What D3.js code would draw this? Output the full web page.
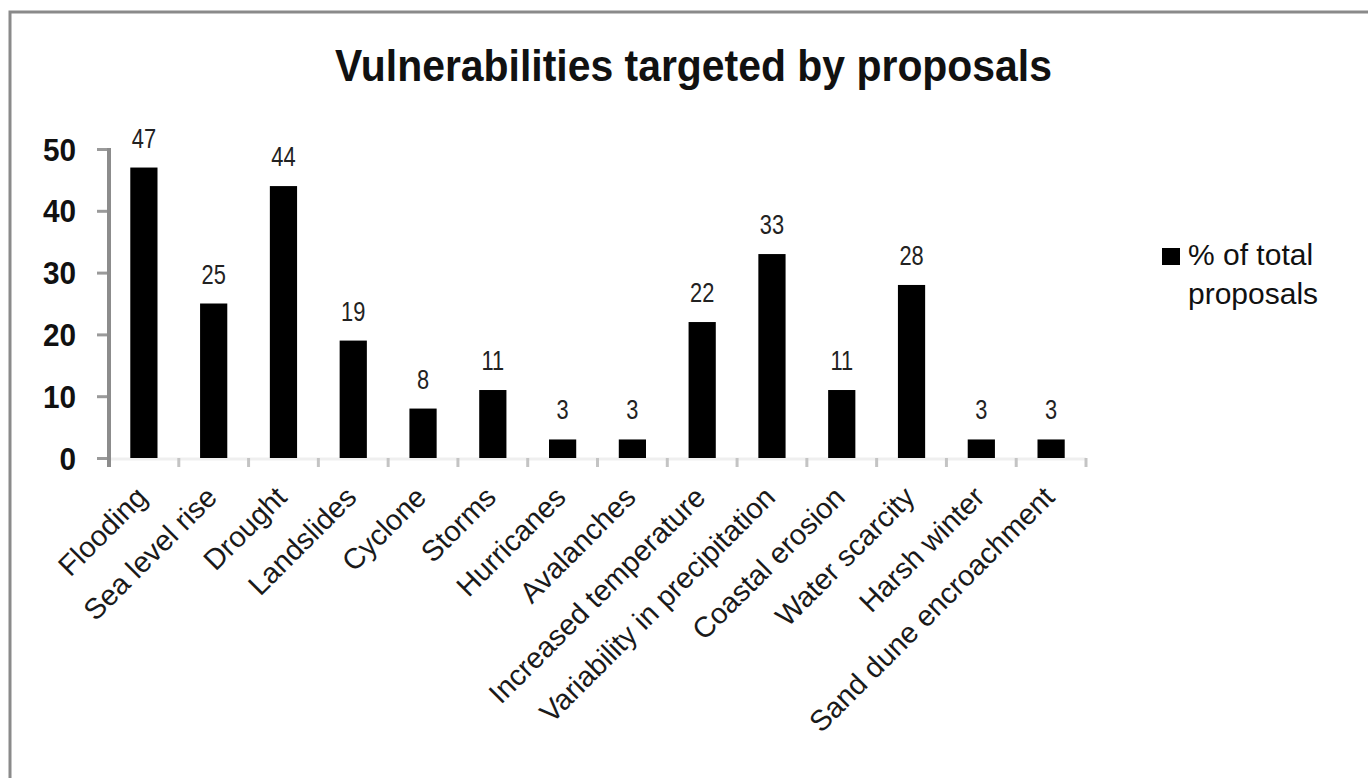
<!DOCTYPE html>
<html>
<head>
<meta charset="utf-8">
<script src="https://cdn.jsdelivr.net/npm/d3@7"></script>
<style>
  html, body { margin: 0; padding: 0; background: #fff; }
  svg { display: block; }
  text { font-family: "Liberation Sans", Arial, sans-serif; }
</style>
</head>
<body>
<svg id="chart" width="1368" height="778"></svg>
<script>
// Share of proposals addressing each vulnerability (%)
const categories = [
  "Flooding", "Sea level rise", "Drought", "Landslides", "Cyclone", "Storms",
  "Hurricanes", "Avalanches", "Increased temperature", "Variability in precipitation",
  "Coastal erosion", "Water scarcity", "Harsh winter", "Sand dune encroachment"
];
const values = [47, 25, 44, 19, 8, 11, 3, 3, 22, 33, 11, 28, 3, 3];
const yTicks = [0, 10, 20, 30, 40, 50];
const titleText = "Vulnerabilities targeted by proposals";
const legendLines = ["% of total", "proposals"];

const svg = d3.select("#chart");

// frame around the chart area
svg.append("path")
  .attr("d", "M10,778 L10,12 L1368,12")
  .attr("fill", "none")
  .attr("stroke", "#8a8a8a")
  .attr("stroke-width", 3);

const x = d3.scaleBand()
  .domain(categories)
  .range([109, 1086])
  .paddingInner(0.61)
  .paddingOuter(0.305);

const y = d3.scaleLinear()
  .domain([0, 50])
  .range([458, 149]);

// title
svg.append("text")
  .attr("x", 335)
  .attr("y", 81)
  .attr("font-size", 44)
  .attr("font-weight", "bold")
  .attr("fill", "#111")
  .attr("textLength", 717)
  .attr("lengthAdjust", "spacingAndGlyphs")
  .text(titleText);

// category axis: faint baseline with separators between categories
const step = x.step();
const x0 = x.range()[0];
svg.append("line")
  .attr("x1", x0).attr("x2", x.range()[1])
  .attr("y1", y(0) + 1).attr("y2", y(0) + 1)
  .attr("stroke", "#efefef").attr("stroke-width", 3);

svg.append("g")
  .selectAll("line")
  .data(d3.range(1, categories.length + 1))
  .join("line")
  .attr("x1", i => x0 + i * step)
  .attr("x2", i => x0 + i * step)
  .attr("y1", y(0))
  .attr("y2", y(0) + 9)
  .attr("stroke", "#c4c4c4")
  .attr("stroke-width", 3);

// value axis
const yAxis = svg.append("g")
  .attr("transform", `translate(${x0},0)`)
  .call(d3.axisLeft(y).tickValues(yTicks).tickSize(12).tickPadding(0).tickFormat(""));
yAxis.select(".domain").remove();
yAxis.selectAll(".tick line")
  .attr("stroke", "#9a9a9a")
  .attr("stroke-width", 3);
yAxis.append("line")
  .attr("x1", 0).attr("x2", 0)
  .attr("y1", y(50) - 1).attr("y2", y(0) + 9)
  .attr("stroke", "#8c8c8c").attr("stroke-width", 4);

svg.append("g")
  .selectAll("text")
  .data(yTicks)
  .join("text")
  .attr("transform", d => `translate(76,${y(d)}) scale(0.93,1)`)
  .attr("dy", "0.36em")
  .attr("text-anchor", "end")
  .attr("font-size", 32)
  .attr("font-weight", "bold")
  .attr("fill", "#111")
  .text(d => d);

// bars
svg.append("g")
  .selectAll("rect")
  .data(values)
  .join("rect")
  .attr("x", (d, i) => x(categories[i]))
  .attr("y", d => y(d))
  .attr("width", x.bandwidth())
  .attr("height", d => y(0) - y(d))
  .attr("fill", "#000");

// value labels above bars
svg.append("g")
  .selectAll("text")
  .data(values)
  .join("text")
  .attr("transform", (d, i) =>
    `translate(${x(categories[i]) + x.bandwidth() / 2},${y(d) - 20}) scale(0.78,1)`)
  .attr("text-anchor", "middle")
  .attr("font-size", 28)
  .attr("fill", "#222")
  .text(d => d);

// rotated category labels
svg.append("g")
  .selectAll("text")
  .data(categories)
  .join("text")
  .attr("transform", d =>
    `translate(${x(d) + x.bandwidth() / 2 + 5},499) rotate(-45)`)
  .attr("text-anchor", "end")
  .attr("font-size", 29)
  .attr("fill", "#1a1a1a")
  .text(d => d);

// legend
const legend = svg.append("g").attr("transform", "translate(1162,248)");
legend.append("rect")
  .attr("width", 18).attr("height", 17)
  .attr("fill", "#000");
legend.selectAll("text")
  .data(legendLines)
  .join("text")
  .attr("x", 26)
  .attr("y", (d, i) => 17 + i * 39)
  .attr("font-size", 30)
  .attr("fill", "#111")
  .text(d => d);
</script>
</body>
</html>
